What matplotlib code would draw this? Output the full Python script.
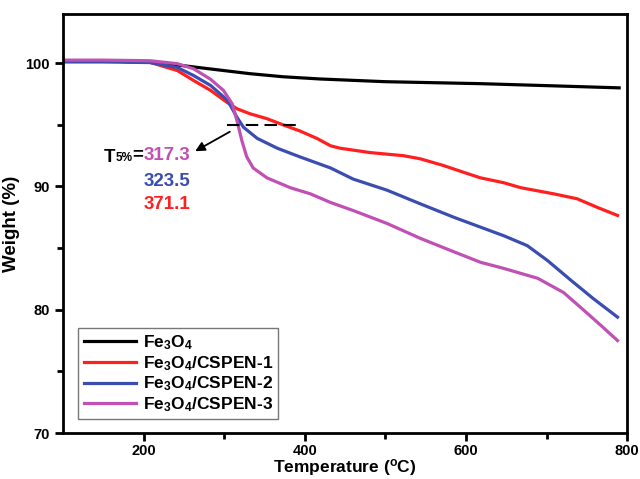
import matplotlib
matplotlib.use("Agg")
from matplotlib import pyplot as plt

plt.rcParams["font.family"] = ["Liberation Sans", "DejaVu Sans"]
plt.rcParams["font.weight"] = "bold"
plt.rcParams["mathtext.fontset"] = "custom"
plt.rcParams["mathtext.rm"] = "Liberation Sans:bold"
plt.rcParams["mathtext.bf"] = "Liberation Sans:bold"

# temperature (C) / weight (%)
t_fe = [100, 150, 208, 249, 291, 332, 373, 419, 500, 618, 700, 790]
w_fe = [100.2, 100.2, 100.07, 99.8, 99.47, 99.15, 98.9, 98.72, 98.5, 98.34, 98.18, 98.0]

t_c1 = [100, 150, 208, 242, 262, 283, 304, 316, 332, 353, 373, 394, 415, 432, 444, 481, 522,
        543, 572, 597, 618, 647, 668, 709, 738, 763, 788]
w_c1 = [100.2, 100.2, 100.07, 99.4, 98.6, 97.8, 96.8, 96.3, 95.9, 95.5, 95.0, 94.5, 93.9, 93.3,
        93.1, 92.75, 92.5, 92.25, 91.7, 91.15, 90.7, 90.3, 89.9, 89.4, 89.0, 88.3, 87.65]

t_c2 = [100, 150, 208, 242, 262, 283, 304, 316, 324, 341, 366, 394, 432, 460, 502, 543, 585,
        618, 647, 676, 701, 730, 758, 788]
w_c2 = [100.1, 100.1, 100.05, 99.65, 99.0, 98.2, 97.0, 95.6, 94.8, 93.9, 93.1, 92.4, 91.5,
        90.6, 89.7, 88.6, 87.5, 86.7, 86.0, 85.2, 84.0, 82.4, 80.9, 79.4]

t_c3 = [100, 150, 208, 242, 262, 283, 299, 310, 316, 322, 328, 336, 353, 382, 407, 432, 460,
        502, 543, 585, 618, 647, 689, 721, 742, 767, 788]
w_c3 = [100.25, 100.25, 100.2, 99.96, 99.55, 98.7, 97.8, 96.7, 95.3, 93.7, 92.4, 91.5, 90.7,
        89.9, 89.4, 88.7, 88.05, 87.0, 85.8, 84.7, 83.85, 83.35, 82.55, 81.4, 80.2, 78.75, 77.5]

labels = [r"$\mathbf{Fe_3O_4}$", r"$\mathbf{Fe_3O_4}$/CSPEN-1",
          r"$\mathbf{Fe_3O_4}$/CSPEN-2", r"$\mathbf{Fe_3O_4}$/CSPEN-3"]
colors = ["black", "#ff1f1f", "#3a4db0", "#c050b4"]
t5_vals = ["317.3", "323.5", "371.1"]

fig = plt.figure(figsize=(6.4, 4.79), dpi=100)
ax = fig.add_axes([0.0984, 0.096, 0.8816, 0.875])

for t, w, lab, c in zip([t_fe, t_c1, t_c2, t_c3], [w_fe, w_c1, w_c2, w_c3], labels, colors):
    ax.plot(t, w, color=c, lw=2.3, label=lab, solid_joinstyle="round")

# 5 % weight-loss marker
ax.plot([304, 392], [95, 95], "--", color="black", lw=1.5, dashes=(6, 3))
ax.annotate("", xy=(261, 92.75), xytext=(310, 94.55),
            arrowprops=dict(arrowstyle="-|>", color="black", lw=1.3, mutation_scale=14))

n1 = ax.text(258, 92.55, t5_vals[0], color=colors[3], fontsize=13.5, fontweight="bold",
             ha="right", va="center")
ax.text(258, 90.4, t5_vals[1], color=colors[2], fontsize=13.5, fontweight="bold", ha="right", va="center")
ax.text(258, 88.5, t5_vals[2], color=colors[1], fontsize=13.5, fontweight="bold", ha="right", va="center")
eq = ax.annotate("=", xy=(0, 0.5), xycoords=n1, ha="right", va="center",
                 fontsize=13.5, fontweight="bold", color="black")
sub = ax.annotate("5%", xy=(0, 0.3), xycoords=eq, ha="right", va="center",
                  fontsize=8.5, fontweight="bold", color="black")
ax.annotate("T", xy=(0, 0.6), xycoords=sub, ha="right", va="center",
            fontsize=13.5, fontweight="bold", color="black")

ax.set_xlim(100, 800)
ax.set_ylim(70, 104)
ax.set_xticks([200, 400, 600, 800])
ax.set_xticks([300, 500, 700], minor=True)
ax.set_yticks([70, 80, 90, 100])
ax.set_yticks([75, 85, 95], minor=True)
ax.tick_params(which="major", direction="out", length=6, width=2, labelsize=10.5)
ax.tick_params(which="minor", direction="out", length=4, width=2)
ax.tick_params(axis="x", which="major", pad=2)
for s in ax.spines.values():
    s.set_linewidth(2)

ax.set_xlabel(r"Temperature ($\mathregular{^o}$C)", fontsize=12.5, fontweight="bold", labelpad=-1)
ax.set_ylabel("Weight (%)", fontsize=13.5, fontweight="bold", labelpad=4)

leg = ax.legend(loc="lower left", fontsize=12.5, frameon=True, fancybox=False,
                handlelength=3.0, borderpad=0.3, labelspacing=0.12, handletextpad=0.4,
                bbox_to_anchor=(0.012, 0.012))
leg.get_frame().set_edgecolor("#555555")
leg.get_frame().set_linewidth(1)

plt.savefig("out.png", dpi=100)
